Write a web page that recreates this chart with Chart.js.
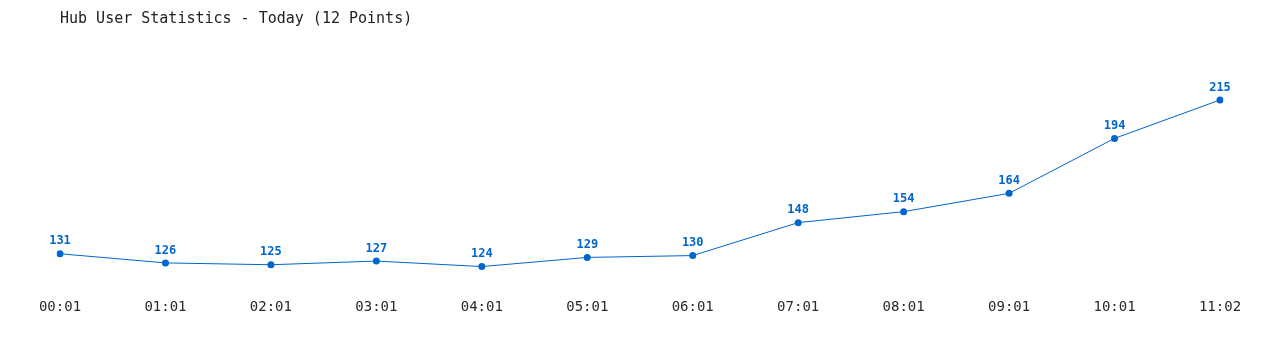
<!DOCTYPE html>
<html>
<head>
<meta charset="utf-8">
<script src="https://cdn.jsdelivr.net/npm/chart.js@4"></script>
<style>
  html, body { margin: 0; padding: 0; background: #fff; }
  #wrap { width: 1280px; height: 350px; }
</style>
</head>
<body>
<div id="wrap"><canvas id="HubChart"></canvas></div>
<script>
// ハブ利用者数
var hours = ['00:01', '01:01', '02:01', '03:01', '04:01', '05:01', '06:01', '07:01', '08:01', '09:01', '10:01', '11:02'];
var users = [131, 126, 125, 127, 124, 129, 130, 148, 154, 164, 194, 215];
var titleText = 'Hub User Statistics - Today (12 Points)';

var blue = '#0066cc';
var mono = "'DejaVu Sans Mono', 'Liberation Mono', monospace";

// 点の上に数値を書く
var valueLabels = {
  id: 'valueLabels',
  afterDatasetsDraw: function (chart) {
    var ctx = chart.ctx;
    var meta = chart.getDatasetMeta(0);
    ctx.save();
    ctx.font = 'bold 12px ' + mono;
    ctx.fillStyle = blue;
    ctx.textAlign = 'center';
    ctx.textBaseline = 'middle';
    meta.data.forEach(function (pt, i) {
      ctx.fillText(String(users[i]), pt.x, pt.y - 12.5);
    });
    ctx.restore();
  }
};

var ctx = document.getElementById('HubChart').getContext('2d');
var myChart = new Chart(ctx, {
  type: 'line',
  data: {
    labels: hours,
    datasets: [
      {
        label: 'Users',
        data: users,
        borderColor: blue,
        backgroundColor: blue,
        borderWidth: 1,
        pointRadius: 3.5,
        pointHoverRadius: 3.5,
        pointBorderWidth: 0,
        tension: 0,
        fill: false
      }
    ]
  },
  options: {
    responsive: true,
    maintainAspectRatio: false,
    animation: false,
    layout: { padding: { left: 60, right: 60, top: 0, bottom: 27 } },
    plugins: {
      legend: { display: false },
      tooltip: { enabled: false },
      title: {
        display: true,
        text: titleText,
        align: 'start',
        color: '#222',
        font: { family: mono, size: 15, weight: 'normal' },
        padding: { top: 10, bottom: 44.5 }
      }
    },
    scales: {
      x: {
        offset: false,
        grid: { display: false, drawTicks: false },
        border: { display: false },
        ticks: {
          color: '#2a2a2a',
          font: { family: mono, size: 14 },
          padding: 7,
          maxRotation: 0,
          autoSkip: false
        }
      },
      y: {
        display: false,
        min: 110,
        max: 230
      }
    }
  },
  plugins: [valueLabels]
});
</script>
</body>
</html>
